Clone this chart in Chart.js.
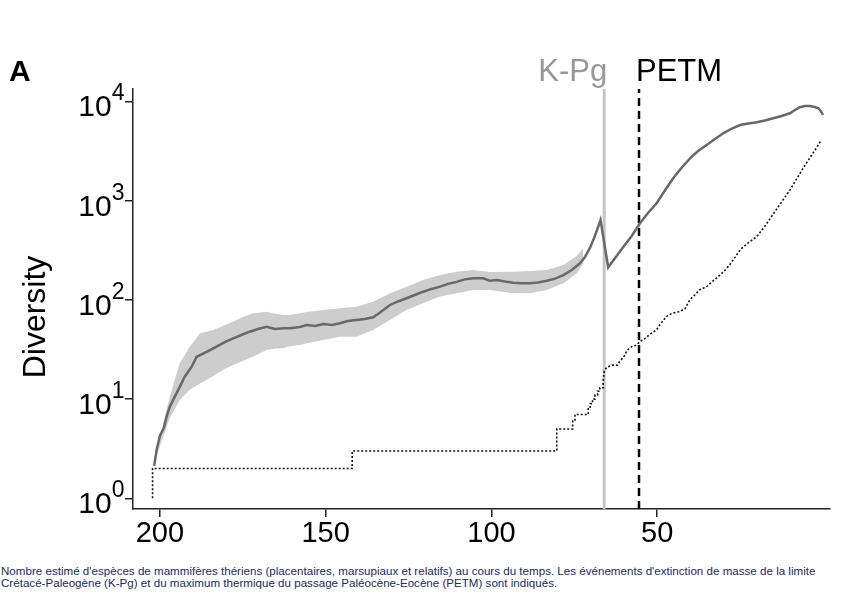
<!DOCTYPE html>
<html><head><meta charset="utf-8">
<script src="https://cdn.jsdelivr.net/npm/chart.js@4.4.1/dist/chart.umd.min.js"></script>
<style>
html,body{margin:0;padding:0;background:#fff;}
#wrap{position:relative;width:843px;height:605px;overflow:hidden;}
canvas{position:absolute;left:0;top:0;}
#cap{position:absolute;left:1px;top:565px;font:11.6px "Liberation Sans",Arial,sans-serif;line-height:12px;color:#23295a;white-space:nowrap;}
</style></head><body>
<div id="wrap"><canvas id="c" width="843" height="555"></canvas>
<div id="cap">Nombre estimé d'espèces de mammifères thériens (placentaires, marsupiaux et relatifs) au cours du temps. Les événements d'extinction de masse de la limite<br>Crétacé-Paleogène (K-Pg) et du maximum thermique du passage Paléocène-Eocène (PETM) sont indiqués.</div></div>
<script>
// ---- data (ages in Ma, diversity = number of species) ----
const ageMean = [201.7,201.0,200.0,198.8,197.9,197.0,195.5,194.0,192.5,190.4,188.9,185.9,182.9,180.4,177.9,175.4,172.9,170.4,167.8,165.3,162.8,160.8,157.8,155.7,153.2,150.7,148.1,145.7,143.3,140.7,138.2,135.7,134.2,132.6,130.6,128.2,125.6,123.1,120.6,118.0,115.5,113.1,110.5,108.0,105.5,102.5,100.5,98.4,95.9,93.4,90.9,88.4,86.0,83.3,80.8,78.3,75.8,73.3,71.8,70.3,68.8,67.1,64.8,62.7,60.2,57.7,55.2,52.8,50.2,47.7,45.2,42.6,40.1,37.7,35.1,32.6,30.1,27.5,25.0,22.6,20.0,17.5,15.0,12.5,10.0,8.5,7.0,5.5,4.0,2.5,1.4,0.6,0.0];
const meanDiv = [2.12,3.07,4.25,5.12,6.76,8.38,10.6,13.3,16.8,21.2,26.7,30.0,33.8,37.6,41.0,44.3,47.8,50.9,53.7,50.9,51.7,51.7,53.3,55.8,54.6,57.1,55.8,58.1,61.3,62.7,64.2,66.8,72.1,79.1,88.9,96.4,104,112,121,129,136,145,152,161,165,165,156,159,153,149,147,147,150,156,164,178,200,234,271,334,441,639,213,264,344,441,592,752,942,1268,1682,2161,2675,3170,3647,4191,4779,5341,5793,6001,6170,6437,6775,7149,7603,8206,8749,9016,9016,8810,8535,7925,7310];

const ageBand = [200.9,199.0,197.0,194.0,191.0,187.9,183.9,181.0,177.9,175.0,171.9,167.8,165.0,162.8,160.8,157.8,155.7,150.7,145.7,140.7,135.7,130.6,125.6,120.6,115.5,110.5,105.5,100.5,93.4,88.4,83.3,78.3,74.3,72.3];
const bandHigh = [3.27,5.70,10.6,23.0,33.8,46.1,49.7,54.6,60.3,67.3,73.3,76.0,72.1,70.4,70.4,73.3,75.5,79.1,82.3,85.4,95.9,117,136,159,178,192,200,191,192,196,200,225,277,333];
const bandLow = [2.67,4.18,6.45,9.80,12.4,14.4,17.1,19.6,22.1,24.2,26.7,31.3,32.4,32.5,34.0,35.1,36.5,39.4,42.6,42.6,49.7,62.7,79.1,92.4,108,117,126,126,117,117,126,147,185,234];

// observed (sampled) diversity, with explicit step corners
const ageObs = [202.2,202.2,142.0,142.0,80.3,80.3,75.5,75.5,74.8,74.8,70.8,70.8,70.2,70.2,69.5,69.5,68.8,68.8,68.0,68.0,67.3,67.3,66.3,66.3,66.0,65.2,63.6,62.0,61.5,60.8,60.0,59.1,57.6,56.3,55.2,53.7,52.2,50.2,48.9,47.2,45.6,43.5,41.7,40.2,38.7,37.3,35.1,33.2,31.1,29.5,28.0,26.5,25.0,22.6,20.0,17.5,15.0,12.5,10.0,7.6,5.2,2.8,0.5];
const obsDiv = [1,2,2,3,3,5,5,6,6,7,7,8,8,9,9,10,10,11,11,12,12,13,13,15,19,21,22,22,23.5,25,27,31,34,35,38,41,45,50,58,68,73,76,81,100,112,126,136,155,178,200,230,270,320,375,434,556,735,970,1283,1734,2344,3097,4093];

const kpgAge = 66.0;
const petmAge = 55.5;
const xTicks = [200, 150, 100, 50];
const yTickExps = [0, 1, 2, 3, 4];
const panelLabel = 'A';
const yTitle = 'Diversity';
const kpgLabel = 'K-Pg';
const petmLabel = 'PETM';

const X_MIN = -2.1, X_MAX = 208.1;
const Y_MIN = 0.78, Y_MAX = 13366;

const FONT = '"Liberation Sans", Arial, Helvetica, sans-serif';
const zip = (a, b) => a.map((v, i) => ({x: v, y: b[i]}));

const annot = {
  id: 'annot',
  afterDraw(chart) {
    const {ctx, scales: {x, y}} = chart;
    ctx.save();
    ctx.fillStyle = '#000';
    ctx.textBaseline = 'alphabetic';
    ctx.font = 'bold 30px ' + FONT;
    ctx.textAlign = 'left';
    ctx.fillText(panelLabel, 9, 81);
    yTickExps.forEach(e => {
      const py = y.getPixelForValue(Math.pow(10, e));
      ctx.font = '23px ' + FONT;
      const ew = ctx.measureText(String(e)).width;
      ctx.textAlign = 'right';
      ctx.fillText(String(e), 124.5, py - 1);
      ctx.font = '30px ' + FONT;
      ctx.fillText('10', 124.5 - ew, py + 15);
    });
    ctx.save();
    ctx.translate(45, 317);
    ctx.rotate(-Math.PI / 2);
    ctx.font = '32px ' + FONT;
    ctx.textAlign = 'center';
    ctx.fillText(yTitle, 0, 0);
    ctx.restore();
    ctx.font = '31px ' + FONT;
    ctx.textAlign = 'right';
    ctx.fillStyle = '#979797';
    ctx.fillText(kpgLabel, x.getPixelForValue(kpgAge) + 3, 81);
    ctx.textAlign = 'left';
    ctx.fillStyle = '#000';
    ctx.fillText(petmLabel, x.getPixelForValue(petmAge) - 3, 81);
    ctx.restore();
  }
};

new Chart(document.getElementById('c'), {
  type: 'line',
  data: {
    datasets: [
      { label: 'mean', data: zip(ageMean, meanDiv), borderColor: '#686868', borderWidth: 2.5, pointRadius: 0, tension: 0, fill: false },
      { label: 'observed', data: zip(ageObs, obsDiv), borderColor: '#111', borderWidth: 1.6, borderDash: [2, 2], pointRadius: 0, tension: 0, fill: false },
      { label: 'K-Pg', data: [{x: kpgAge, y: Y_MIN}, {x: kpgAge, y: Y_MAX}], borderColor: '#c4c4c4', borderWidth: 3, pointRadius: 0, fill: false },
      { label: 'PETM', data: [{x: petmAge, y: Y_MIN}, {x: petmAge, y: Y_MAX}], borderColor: '#000', borderWidth: 2.5, borderDash: [8, 5], pointRadius: 0, fill: false },
      { label: 'upper', data: zip(ageBand, bandHigh), borderWidth: 0, borderColor: 'rgba(0,0,0,0)', pointRadius: 0, fill: '+1', backgroundColor: '#cdcdcd' },
      { label: 'lower', data: zip(ageBand, bandLow), borderWidth: 0, borderColor: 'rgba(0,0,0,0)', pointRadius: 0, fill: false }
    ]
  },
  options: {
    responsive: false,
    animation: false,
    devicePixelRatio: 1,
    layout: { padding: { left: 0, right: 13, top: 89, bottom: 0 } },
    plugins: { legend: { display: false }, tooltip: { enabled: false } },
    scales: {
      x: {
        type: 'linear', reverse: true, min: X_MIN, max: X_MAX, bounds: 'data',
        afterBuildTicks: s => { s.ticks = xTicks.map(v => ({value: v})); },
        afterFit: s => { s.height = 46; },
        grid: { display: true, drawOnChartArea: false, drawTicks: true, tickLength: 8, color: '#222', lineWidth: 1.5 },
        border: { display: true, color: '#222', width: 1.5 },
        ticks: { color: '#000', padding: 0, font: { family: FONT, size: 29, lineHeight: 1.2 }, maxRotation: 0, autoSkip: false }
      },
      y: {
        type: 'logarithmic', min: Y_MIN, max: Y_MAX, bounds: 'data',
        afterBuildTicks: s => { s.ticks = yTickExps.map(e => ({value: Math.pow(10, e)})); },
        afterFit: s => { s.width = 133; },
        grid: { display: true, drawOnChartArea: false, drawTicks: true, tickLength: 8, color: '#222', lineWidth: 1.5 },
        border: { display: true, color: '#222', width: 1.5 },
        ticks: { display: false }
      }
    }
  },
  plugins: [annot]
});
</script></body></html>
